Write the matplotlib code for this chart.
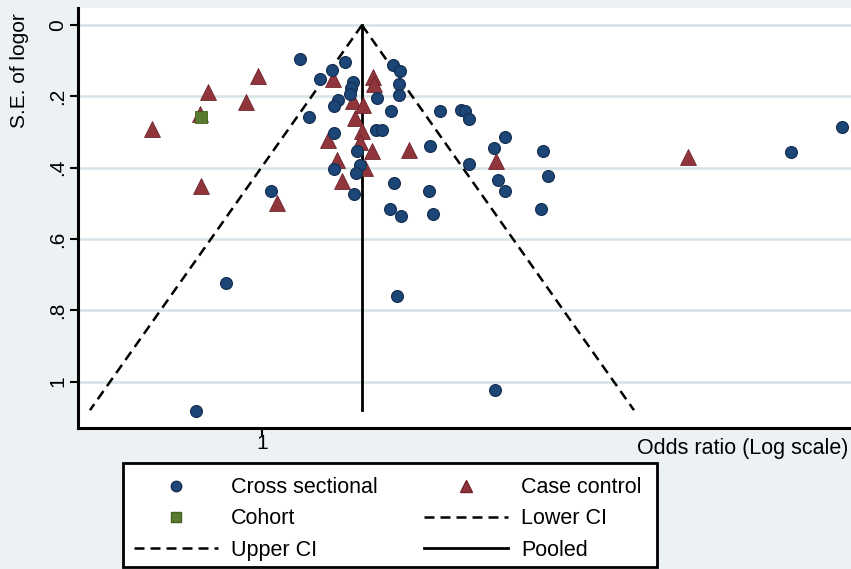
import numpy as np
import matplotlib
matplotlib.use('Agg')
import matplotlib.pyplot as plt
from matplotlib.lines import Line2D
from matplotlib.patches import Rectangle

plt.rcParams['font.family'] = ['Liberation Sans', 'DejaVu Sans']

# log odds ratio and its standard error, by study design
cs_logor = [0.296, 0.646, 0.545, 0.451, 0.708, 0.693, 0.685, 0.591, 0.560, 0.366,
            1.019, 1.074, 1.066, 1.066, 0.895, 1.004, 1.385, 1.549, 1.580, 1.611,
            0.560, 0.887, 0.934, 0.739, 1.307, 1.891, 1.805, 2.187, 1.611, 0.560,
            0.763, 0.732, 0.070, 1.027, 1.300, 1.837, 1.891, 2.226, 0.716, 0.996,
            1.082, 1.331, 2.171, -0.280, 1.051, -0.514, 1.813, 4.117, 4.514]
cs_se = [0.095, 0.104, 0.126, 0.151, 0.160, 0.177, 0.194, 0.210, 0.227, 0.258,
         0.112, 0.129, 0.165, 0.196, 0.205, 0.241, 0.241, 0.238, 0.241, 0.264,
         0.303, 0.295, 0.295, 0.353, 0.339, 0.314, 0.345, 0.353, 0.390, 0.404,
         0.393, 0.415, 0.466, 0.443, 0.466, 0.435, 0.466, 0.424, 0.474, 0.516,
         0.536, 0.530, 0.516, 0.724, 0.760, 1.083, 1.024, 0.356, 0.286]

cc_logor = [-0.856, -0.475, -0.420, -0.482, -0.125, -0.031, 0.117, 0.553, 0.514, 0.584,
            0.623, 0.708, 0.724, 0.786, 0.778, 0.763, 0.802, 0.856, 0.864, 0.872,
            1.144, 1.821, 3.315]
cc_se = [0.292, 0.452, 0.188, 0.250, 0.216, 0.143, 0.499, 0.151, 0.323, 0.379,
         0.438, 0.213, 0.261, 0.224, 0.297, 0.328, 0.401, 0.353, 0.146, 0.165,
         0.351, 0.381, 0.370]

co_logor = [-0.475]
co_se = [0.258]

pooled_logor = 0.778
se_max = 1.08

navy = '#1c4677'
maroon = '#90353b'
green = '#5a7a30'
dash = (0, (4, 2.4))

fig = plt.figure(figsize=(8.51, 5.69), dpi=100, facecolor='#ECF1F3')
ax = fig.add_axes([78 / 851, 1 - 428 / 569, 1 - 78 / 851, 420 / 569])
ax.set_facecolor('white')

# funnel: pooled estimate with 95% limits
se_line = np.array([0, se_max])
ax.plot(np.exp(pooled_logor - 1.96 * se_line), se_line, color='black', lw=1.8,
        ls=dash, zorder=3)
ax.plot(np.exp(pooled_logor + 1.96 * se_line), se_line, color='black', lw=1.8,
        ls=dash, zorder=3)
ax.plot([np.exp(pooled_logor)] * 2, se_line, color='black', lw=2.0, zorder=3)

ax.scatter(np.exp(cc_logor), cc_se, marker='^', s=130, color=maroon,
           edgecolors='#6e2229', linewidths=0.6, zorder=4)
ax.scatter(np.exp(cs_logor), cs_se, marker='o', s=72, color=navy,
           edgecolors='#142f52', linewidths=0.9, zorder=5)
ax.scatter(np.exp(co_logor), co_se, marker='s', s=85, color=green,
           edgecolors='#44601f', linewidths=0.6, zorder=6)

ax.set_xscale('log')
ax.set_xlim(np.exp(-1.432), np.exp(4.584))
ax.set_ylim(1.130, -0.048)

ax.set_xticks([1])
ax.set_xticklabels(['1'])
ax.xaxis.set_minor_locator(matplotlib.ticker.NullLocator())
ax.set_yticks([0, 0.2, 0.4, 0.6, 0.8, 1])
ax.set_yticklabels(['0', '.2', '.4', '.6', '.8', '1'], rotation=90, va='center')
ax.tick_params(axis='both', direction='out', length=6, width=1.5, labelsize=15,
               colors='black')
ax.tick_params(axis='y', pad=1.5)
ax.tick_params(axis='x', pad=-1.5)

ax.grid(axis='y', color='#d5e3e7', lw=1.8)
ax.set_axisbelow(True)
for side in ['top', 'right']:
    ax.spines[side].set_visible(False)
for side in ['left', 'bottom']:
    ax.spines[side].set_linewidth(2.2)

ax.set_ylabel('S.E. of logor', fontsize=15)
ax.yaxis.set_label_coords(-0.064, 0.85)
ax.set_xlabel('Odds ratio (Log scale)', fontsize=15.5, ha='right')
ax.xaxis.set_label_coords(0.997, -0.023)

# legend box drawn on its own, entries laid out inside it
fig.patches.append(Rectangle((123 / 851, 1 - 567 / 569), 534 / 851, 104 / 569,
                             transform=fig.transFigure, facecolor='white',
                             edgecolor='black', lw=2, zorder=0))
handles = [
    Line2D([], [], ls='none', marker='o', ms=7.5, color=navy, mec='#142f52'),
    Line2D([], [], ls='none', marker='s', ms=7.5, color=green, mec='#44601f'),
    Line2D([], [], color='black', lw=1.8, ls=dash),
    Line2D([], [], ls='none', marker='^', ms=8.5, color=maroon, mec='#6e2229'),
    Line2D([], [], color='black', lw=1.8, ls=dash),
    Line2D([], [], color='black', lw=2.0),
]
labels = ['Cross sectional', 'Cohort', 'Upper CI', 'Case control', 'Lower CI', 'Pooled']
leg = fig.legend(handles, labels, ncol=2, loc='center left', mode='expand',
                 bbox_to_anchor=(128 / 851, 1 - 571 / 569, 520 / 851, 104 / 569),
                 fontsize=15.5, handlelength=3.9, handletextpad=0.6,
                 columnspacing=2.0, labelspacing=0.48, borderpad=0.3,
                 borderaxespad=0, frameon=False)

fig.savefig('out.png', dpi=100, facecolor=fig.get_facecolor())
